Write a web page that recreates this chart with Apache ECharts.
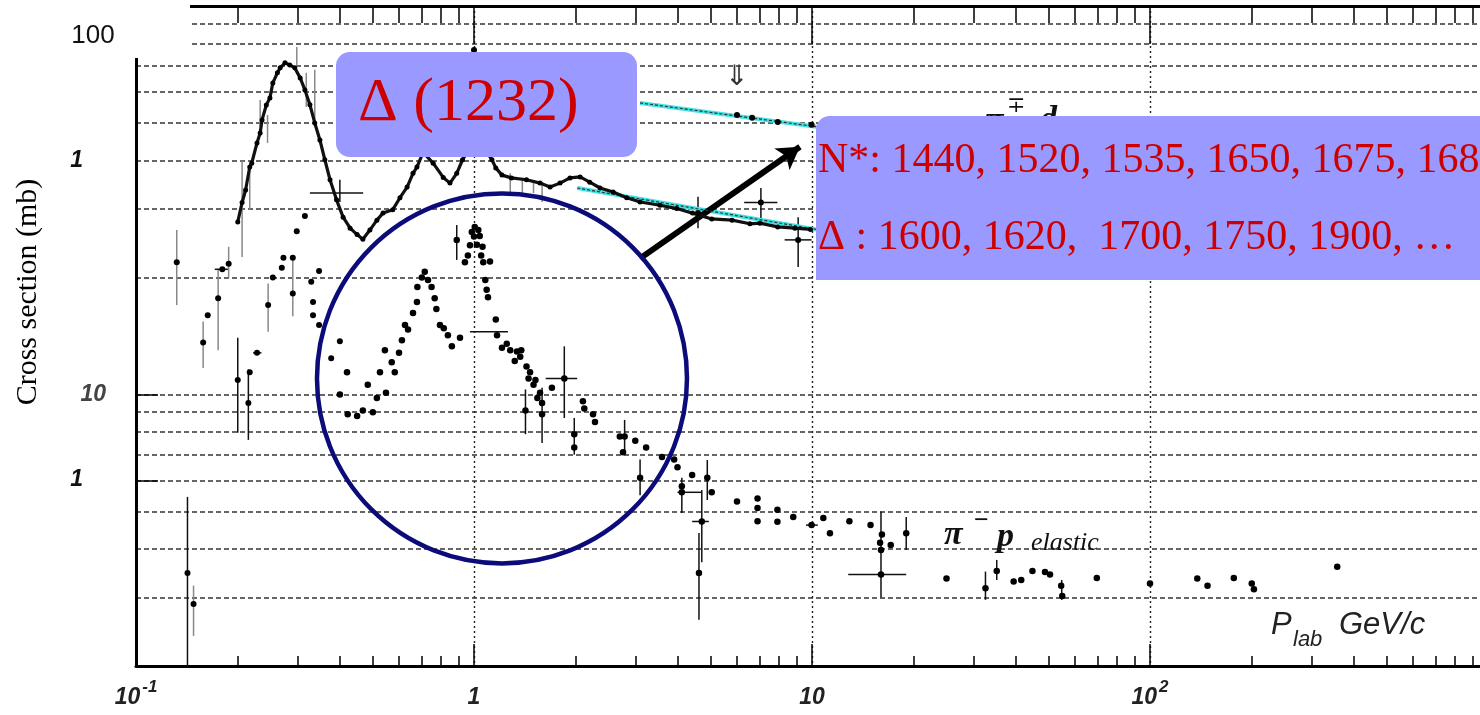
<!DOCTYPE html>
<html><head><meta charset="utf-8">
<script src="https://cdn.jsdelivr.net/npm/echarts@6.0.0/dist/echarts.min.js"></script>
<style>html,body{margin:0;padding:0;background:#fff}#c{width:1480px;height:715px}</style>
</head><body><div id="c"></div>
<script>
// ---------- axis ticks / labels ----------
const xMinorTicks = [0.2,0.3,0.4,0.5,0.6,0.7,0.8,0.9,2,3,4,5,6,7,8,9,20,30,40,50,60,70,80,90,200,300,400,500,600,700,800,900];
const xMajorTicks = [0.1,1,10,100,1000];
const xLabelValues = [0.1,1,10,100];
const xLabelBase = ['10','1','10','10'];
const xLabelSup = ['-1','','','2'];
const yGridValues = [3,4,5,6,7,8,9,10,20,30,40,50,60,70,80,90];
const yLabelValues = [40,10,6.05];
const yLabelTexts = ['1','10','1'];
const yTickValues = [10,6];

// ---------- data (P_lab GeV/c, cross section mb) ----------
const piMinusPTotal = [[0.200,27.8],[0.206,31.2],[0.211,33.6],[0.217,38.5],[0.220,39.4],[0.228,44.4],[0.233,47.1],[0.236,50.9],[0.243,55.6],[0.249,58.0],[0.254,63.4],[0.262,67.3],[0.267,69.3],[0.276,71.4],[0.285,70.5],[0.295,69.3],[0.306,65.3],[0.316,60.8],[0.327,55.7],[0.338,50.0],[0.350,45.2],[0.362,40.2],[0.375,35.7],[0.392,31.7],[0.410,28.6],[0.430,26.8],[0.451,25.8],[0.469,25.1],[0.492,26.5],[0.516,28.1],[0.538,29.3],[0.575,29.9],[0.604,32.1],[0.634,34.2],[0.660,37.1],[0.678,38.5],[0.707,42.0],[0.757,39.4],[0.811,36.2],[0.849,35.0],[0.889,37.1],[0.925,40.2],[0.973,43.1],[1.035,44.6],[1.08,42.6],[1.13,40.2],[1.16,38.3],[1.21,36.7],[1.29,36.1],[1.43,35.7],[1.568,35.0],[1.679,34.2],[1.797,35.0],[1.923,36.1],[2.06,36.3],[2.20,35.2],[2.36,34.0],[2.58,33.2],[2.83,32.1],[3.10,31.3],[3.55,30.7],[3.98,30.1],[4.43,29.3],[5.05,28.3],[5.80,28.1],[6.55,27.5],[7.01,27.6],[7.92,27.0],[8.90,26.8],[9.9,26.6]];
const piDTotal = [[1.0,77.1],[6.0,52.4],[6.65,51.6],[7.92,50.3],[9.97,49.5]];
const piDFit = [[3.10,56.3],[10.3,48.9]];
const piPTotalFit = [[2.02,34.0],[10.3,26.6]];
const crossPoints = [[7.06,31.2],[9.1,25.0],[4.6,29.3]];
const piMinusPElastic = [[0.401,10.0],[0.421,11.4],[0.423,8.9],[0.451,8.8],[0.469,9.1],[0.485,10.6],[0.502,9.0],[0.516,9.8],[0.527,11.4],[0.545,13.0],[0.549,10.1],[0.571,12.1],[0.583,11.4],[0.600,12.8],[0.612,13.8],[0.625,15.1],[0.638,14.7],[0.660,16.2],[0.678,17.3],[0.680,18.9],[0.701,20.0],[0.715,20.7],[0.731,19.7],[0.749,18.9],[0.765,17.7],[0.774,16.6],[0.793,15.1],[0.814,14.8],[0.837,14.2],[0.860,13.3],[0.889,25.0],[0.909,14.0],[0.940,21.9],[0.959,22.8],[0.973,24.2],[0.985,26.2],[1.0,25.5],[1.005,27.0],[1.02,24.3],[1.030,26.5],[1.040,25.6],[1.05,22.8],[1.060,24.0],[1.065,21.9],[1.080,19.7],[1.090,18.6],[1.100,17.8],[1.115,22.0],[1.160,15.6],[1.170,14.2],[1.210,13.2],[1.25,13.5],[1.280,13.0],[1.32,12.2],[1.340,12.9],[1.370,12.5],[1.38,13.0],[1.430,11.8],[1.45,11.0],[1.465,11.4],[1.500,10.6],[1.52,10.9],[1.540,9.8],[1.568,10.1],[1.590,9.5],[1.420,9.1],[1.590,8.9],[1.700,10.4],[1.850,11.0],[2.10,9.6],[2.12,9.2],[2.25,8.9],[2.28,8.5],[1.98,7.9],[1.98,7.3],[2.70,7.8],[2.79,7.8],[2.76,7.1],[3.00,7.6],[3.23,7.3],[3.60,6.9],[3.91,6.8],[4.00,6.5],[3.10,6.1],[4.12,5.8],[4.42,6.2],[4.90,6.1],[5.05,5.6],[4.12,5.6],[4.72,4.71],[4.63,3.47],[6.00,5.3],[6.90,5.4],[6.90,5.1],[6.90,4.72],[7.90,5.05],[7.90,4.7],[8.80,4.84],[9.97,4.61],[10.8,4.81],[11.3,4.39],[12.9,4.72],[14.9,4.61],[16.1,4.36],[15.9,4.15],[16.0,3.98],[17.1,4.10],[19.0,4.39],[16.0,3.44],[25.0,3.36],[32.6,3.17],[35.2,3.51],[39.5,3.30],[41.6,3.33],[44.9,3.51],[48.9,3.49],[50.6,3.44],[54.6,3.22],[55.0,3.03],[69.6,3.37],[100,3.26],[138,3.36],[148,3.22],[177,3.37],[200,3.26],[203,3.15],[358,3.60]];
const lowScatter = [[0.132,21.9],[0.158,13.6],[0.163,16.0],[0.175,17.7],[0.180,21.0],[0.188,21.7],[0.200,10.9],[0.215,9.5],[0.217,11.4],[0.228,12.8],[0.246,17.0],[0.254,20.0],[0.270,21.2],[0.273,22.5],[0.291,22.5],[0.291,18.2],[0.299,26.3],[0.316,28.8],[0.330,19.5],[0.334,17.3],[0.334,16.0],[0.348,20.8],[0.348,15.1],[0.378,12.4],[0.401,13.7],[0.142,3.47],[0.148,2.89]];
// error bars: [x, low, high]
const yErrGray = [[0.132,17.0,26.5],[0.158,11.7,15.4],[0.175,13.0,20.9],[0.188,20.0,24.0],[0.246,14.5,19.3],[0.291,15.9,22.6],[0.148,2.39,3.22],[0.206,22.6,40.0],[0.217,29.9,38.5],[0.233,48.9,57.3],[0.245,44.4,52.4],[0.319,55.0,67.3],[0.338,48.9,68.5],[0.299,69.7,78.4],[1.28,33.2,37.1],[1.39,33.0,36.1],[1.50,33.0,35.0],[1.59,31.3,35.0]];
const yErrBlack = [[0.142,2.0,5.45],[0.200,7.97,14.0],[0.215,7.64,11.6],[0.889,22.2,27.3],[1.42,7.9,10.3],[1.59,7.5,10.4],[1.85,8.7,13.3],[1.98,7.0,8.7],[2.79,7.0,8.6],[3.10,5.5,6.8],[4.90,5.35,6.78],[4.12,4.95,6.1],[4.72,3.7,5.68],[4.63,2.63,4.4],[19.0,3.98,4.84],[16.0,3.0,5.0],[32.6,2.96,3.5],[35.2,3.33,3.75],[54.8,2.96,3.33],[7.06,28.4,34.0],[9.1,21.3,28.6],[4.6,26.8,32.3],[0.401,31.3,35.7]];
// horizontal error bars: [y, xLow, xHigh]
const xErrBars = [[21.0,0.171,0.187],[12.8,0.222,0.235],[33.0,0.327,0.47],[11.0,1.63,2.02],[5.6,4.0,4.7],[4.71,4.42,4.95],[4.61,9.6,10.4],[3.44,12.8,19.0],[31.2,6.3,7.9],[25.0,8.3,9.97],[14.5,0.973,1.26]];
// annotations (data coordinates)
const circleCenter = [1.21, 11.0];
const arrowFrom = [3.10, 22.4];
const arrowTo = [9.21, 43.4];

const serif = '"Liberation Serif", "Times New Roman", serif';
const sans = '"Liberation Sans", Arial, sans-serif';

function nearestIdx(arr, v) {
  let best = 0, bd = Infinity;
  arr.forEach((t, i) => { const d = Math.abs(Math.log(t) - Math.log(v)); if (d < bd) { bd = d; best = i; } });
  return best;
}
function vErr(color, width) {
  return function (params, api) {
    const a = api.coord([api.value(0), api.value(1)]);
    const b = api.coord([api.value(0), api.value(2)]);
    return { type: 'line', shape: { x1: a[0], y1: a[1], x2: b[0], y2: b[1] }, style: { stroke: color, lineWidth: width } };
  };
}
function hErr(color, width) {
  return function (params, api) {
    const a = api.coord([api.value(1), api.value(0)]);
    const b = api.coord([api.value(2), api.value(0)]);
    return { type: 'line', shape: { x1: a[0], y1: a[1], x2: b[0], y2: b[1] }, style: { stroke: color, lineWidth: width } };
  };
}

const logX = { type: 'log', logBase: 10, min: 0.1, max: 1000 };
const logY = { type: 'log', logBase: 10, min: 2, max: 100 };
const dot = { color: '#000', opacity: 1 };

const option = {
  animation: false,
  backgroundColor: '#fff',
  grid: { left: 136, right: -8, top: 6, bottom: 49, containLabel: false, outerBoundsMode: 'none' },
  xAxis: [
    Object.assign({}, logX, { position: 'bottom',
      axisLine: { show: true, lineStyle: { color: '#000', width: 3 } },
      axisTick: { show: true, inside: true, length: 10, customValues: xMinorTicks, lineStyle: { color: '#000', width: 1.5 } },
      axisLabel: { show: false }, splitLine: { show: false } }),
    Object.assign({}, logX, { position: 'bottom',
      axisLine: { show: false },
      axisTick: { show: true, inside: true, length: 22, customValues: xMajorTicks, lineStyle: { color: '#000', width: 1.5 } },
      axisLabel: { show: true, customValues: xLabelValues, margin: 11,
        formatter: function (v) { const i = nearestIdx(xLabelValues, v); return '{m|' + xLabelBase[i] + '}' + (xLabelSup[i] ? '{s|' + xLabelSup[i] + '}' : ''); },
        rich: {
          m: { fontFamily: sans, fontStyle: 'italic', fontWeight: 'bold', fontSize: 23, color: '#222', padding: [9, 0, 9, 0] },
          s: { fontFamily: sans, fontStyle: 'italic', fontWeight: 'bold', fontSize: 17, color: '#222', padding: [0, 0, 20, 2] }
        } },
      splitLine: { show: true, lineStyle: { color: '#222', type: [2, 3], width: 1.4 } } }),
    Object.assign({}, logX, { position: 'top',
      axisLine: { show: true, lineStyle: { color: '#000', width: 3 } },
      axisTick: { show: true, inside: true, length: 17, customValues: xMinorTicks, lineStyle: { color: '#000', width: 1.5 } },
      axisLabel: { show: false }, splitLine: { show: false } }),
    Object.assign({}, logX, { position: 'top',
      axisLine: { show: false },
      axisTick: { show: true, inside: true, length: 38, customValues: xMajorTicks, lineStyle: { color: '#000', width: 1.5 } },
      axisLabel: { show: false }, splitLine: { show: false } })
  ],
  yAxis: [
    Object.assign({}, logY, { position: 'left',
      axisLine: { show: true, lineStyle: { color: '#000', width: 3 } },
      axisTick: { show: true, inside: true, length: 22, customValues: yTickValues, lineStyle: { color: '#000', width: 1.5 } },
      axisLabel: { show: true, customValues: yLabelValues, margin: 30,
        formatter: function (v) { const i = nearestIdx(yLabelValues, v); return (yLabelTexts[i] === '10' ? '{b|' : '{a|') + yLabelTexts[i] + '}'; },
        rich: {
          a: { fontFamily: sans, fontStyle: 'italic', fontWeight: 'bold', fontSize: 23, color: '#111', padding: [0, 23, 0, 0] },
          b: { fontFamily: sans, fontStyle: 'italic', fontWeight: 'bold', fontSize: 23, color: '#444' }
        } },
      splitLine: { show: false } }),
    Object.assign({}, logY, { position: 'left',
      axisLine: { show: false },
      axisTick: { show: false, customValues: yGridValues },
      axisLabel: { show: false },
      splitLine: { show: true, lineStyle: { color: '#333', type: [5, 3], width: 1.6 } } })
  ],
  series: [
    { type: 'custom', renderItem: vErr('#888', 1.5), data: yErrGray, encode: { x: 0, y: [1, 2] }, z: 3, silent: true },
    { type: 'custom', renderItem: vErr('#111', 1.5), data: yErrBlack, encode: { x: 0, y: [1, 2] }, z: 3, silent: true },
    { type: 'custom', renderItem: hErr('#111', 1.5), data: xErrBars, encode: { x: [1, 2], y: 0 }, z: 3, silent: true },
    { type: 'line', data: piDFit, showSymbol: false, lineStyle: { color: '#3fe3e3', width: 4 }, z: 4, silent: true },
    { type: 'line', data: piDFit, showSymbol: false, lineStyle: { color: '#333', width: 1.2, type: [3, 2] }, z: 5, silent: true },
    { type: 'line', data: piPTotalFit, showSymbol: false, lineStyle: { color: '#3fe3e3', width: 4 }, z: 4, silent: true },
    { type: 'line', data: piPTotalFit, showSymbol: false, lineStyle: { color: '#333', width: 1.2, type: [3, 2] }, z: 5, silent: true },
    { type: 'line', data: piMinusPTotal, symbol: 'circle', symbolSize: 5, showSymbol: true, lineStyle: { color: '#111', width: 3.2 }, itemStyle: dot, z: 6, silent: true },
    { type: 'scatter', data: piDTotal, symbolSize: 6, itemStyle: dot, z: 6, silent: true },
    { type: 'scatter', data: crossPoints, symbolSize: 6, itemStyle: dot, z: 6, silent: true },
    { type: 'scatter', data: lowScatter, symbolSize: 6, itemStyle: dot, z: 6, silent: true },
    { type: 'scatter', data: piMinusPElastic, symbolSize: 6.5, itemStyle: dot, z: 6, silent: true,
      markLine: { silent: true, symbol: ['none', 'arrow'], symbolSize: [20, 22], animation: false,
        label: { show: false },
        lineStyle: { color: '#000', width: 6, type: 'solid' },
        data: [[{ coord: arrowFrom }, { coord: arrowTo }]] } }
  ]
};

const chart = echarts.init(document.getElementById('c'), null, { renderer: 'canvas' });
chart.setOption(option);

const cc = chart.convertToPixel({ gridIndex: 0 }, circleCenter);
chart.setOption({
  graphic: [
    { type: 'circle', z: 50, silent: true, shape: { cx: cc[0], cy: cc[1], r: 185 }, style: { fill: 'none', stroke: '#0b0b7a', lineWidth: 4.5 } },
    { type: 'rect', z: 100, silent: true, shape: { x: 0, y: 0, width: 190, height: 58 }, style: { fill: '#fff' } },
    { type: 'text', z: 101, silent: true, x: 93, y: 36, style: { text: '100', font: '26px ' + sans, fill: '#111', align: 'center', verticalAlign: 'middle' } },
    { type: 'text', z: 101, silent: true, x: 28, y: 292, rotation: Math.PI / 2, style: { text: 'Cross section (mb)', font: '30px ' + serif, fill: '#000', align: 'center', verticalAlign: 'middle' } },
    { type: 'text', z: 40, silent: true, x: 737, y: 78, style: { text: '⇓', font: '28px "DejaVu Sans"', fill: '#333', align: 'center', verticalAlign: 'middle' } },
    // pi d total (mostly hidden behind box)
    { type: 'text', z: 55, silent: true, x: 985, y: 121, style: { text: 'π', font: 'italic bold 34px ' + serif, fill: '#111', align: 'left', verticalAlign: 'middle' } },
    { type: 'text', z: 55, silent: true, x: 1007, y: 106, style: { text: '∓', font: '22px "DejaVu Serif"', fill: '#111', align: 'left', verticalAlign: 'middle' } },
    { type: 'text', z: 55, silent: true, x: 1040, y: 120, style: { text: 'd', font: 'italic bold 34px ' + serif, fill: '#111', align: 'left', verticalAlign: 'middle' } },
    { type: 'text', z: 55, silent: true, x: 1064, y: 132, style: { text: 'total', font: 'italic 24px ' + serif, fill: '#111', align: 'left', verticalAlign: 'middle' } },
    // pi- p elastic
    { type: 'text', z: 40, silent: true, x: 944, y: 535, style: { text: 'π', font: 'italic bold 34px ' + serif, fill: '#111', align: 'left', verticalAlign: 'middle' } },
    { type: 'text', z: 40, silent: true, x: 974, y: 521, style: { text: '−', font: 'bold 26px ' + serif, fill: '#111', align: 'left', verticalAlign: 'middle' } },
    { type: 'text', z: 40, silent: true, x: 997, y: 537, style: { text: 'p', font: 'italic bold 34px ' + serif, fill: '#111', align: 'left', verticalAlign: 'middle' } },
    { type: 'text', z: 40, silent: true, x: 1031, y: 543, style: { text: 'elastic', font: 'italic 26px ' + serif, fill: '#111', align: 'left', verticalAlign: 'middle' } },
    // P_lab GeV/c
    { type: 'text', z: 40, silent: true, x: 1271, y: 625, style: { text: 'P', font: 'italic 31px ' + sans, fill: '#222', align: 'left', verticalAlign: 'middle' } },
    { type: 'text', z: 40, silent: true, x: 1293, y: 640, style: { text: 'lab', font: 'italic 22px ' + sans, fill: '#222', align: 'left', verticalAlign: 'middle' } },
    { type: 'text', z: 40, silent: true, x: 1339, y: 625, style: { text: 'GeV/c', font: 'italic 31px ' + sans, fill: '#222', align: 'left', verticalAlign: 'middle' } },
    // Delta(1232) box
    { type: 'rect', z: 60, silent: true, shape: { x: 336, y: 52, width: 301, height: 105, r: 14 }, style: { fill: '#9999ff' } },
    { type: 'text', z: 61, silent: true, x: 358, y: 104, style: { text: 'Δ (1232)', font: '62px ' + serif, fill: '#cc0000', align: 'left', verticalAlign: 'middle' } },
    // N* / Delta box
    { type: 'rect', z: 60, silent: true, shape: { x: 816, y: 116, width: 700, height: 164, r: [14, 0, 0, 0] }, style: { fill: '#9999ff' } },
    { type: 'text', z: 61, silent: true, x: 818, y: 161, style: { text: 'N*: 1440, 1520, 1535, 1650, 1675, 1680, …', font: '42px ' + serif, fill: '#cc0000', align: 'left', verticalAlign: 'middle' } },
    { type: 'text', z: 61, silent: true, x: 818, y: 238, style: { text: 'Δ : 1600, 1620,  1700, 1750, 1900, …', font: '42px ' + serif, fill: '#cc0000', align: 'left', verticalAlign: 'middle' } }
  ]
});
</script></body></html>
